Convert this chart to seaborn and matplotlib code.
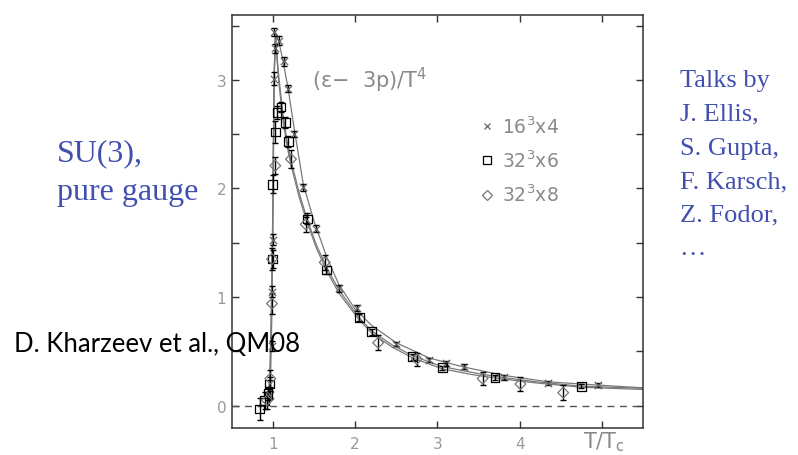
import numpy as np
import pandas as pd
import matplotlib
matplotlib.use("Agg")
import matplotlib.pyplot as plt
from matplotlib.lines import Line2D
import seaborn as sns

# ---------------- data ----------------
# N_t = 4 (16^3 x 4), cross markers
t4 = [0.97, 0.99, 0.995, 1.00, 1.01, 1.01, 1.03, 1.08, 1.13, 1.19, 1.26, 1.37,
      1.53, 1.80, 2.02, 2.50, 2.90, 3.11, 3.33, 3.81, 4.35, 4.95]
v4 = [0.10, 0.55, 1.05, 1.53, 3.01, 3.44, 3.29, 3.36, 3.17, 2.92, 2.50, 2.01,
      1.63, 1.08, 0.90, 0.57, 0.42, 0.39, 0.36, 0.26, 0.21, 0.19]
e4 = [0.04, 0.05, 0.05, 0.05, 0.06, 0.04, 0.04, 0.04, 0.04, 0.03, 0.03, 0.03,
      0.03, 0.03, 0.03, 0.02, 0.02, 0.02, 0.02, 0.02, 0.02, 0.02]

# N_t = 6 (32^3 x 6), squares
t6 = [0.84, 0.90, 0.94, 0.96, 1.00, 1.00, 1.03, 1.05, 1.10, 1.15, 1.19, 1.42,
      1.65, 2.05, 2.20, 2.70, 3.06, 3.70, 4.75]
v6 = [-0.03, 0.05, 0.11, 0.20, 1.35, 2.04, 2.52, 2.70, 2.75, 2.61, 2.43, 1.72,
      1.25, 0.81, 0.68, 0.45, 0.35, 0.26, 0.18]
e6 = [0.10, 0.08, 0.06, 0.06, 0.08, 0.08, 0.10, 0.06, 0.05, 0.05, 0.05, 0.05,
      0.04, 0.03, 0.03, 0.03, 0.02, 0.02, 0.02]

# N_t = 8 (32^3 x 8), diamonds
t8 = [0.93, 0.97, 0.99, 0.99, 1.03, 1.22, 1.40, 1.63, 2.28, 2.75, 3.55, 4.01, 4.53]
v8 = [0.05, 0.25, 0.94, 1.35, 2.21, 2.27, 1.67, 1.32, 0.58, 0.43, 0.25, 0.20, 0.12]
e8 = [0.08, 0.08, 0.10, 0.10, 0.08, 0.08, 0.07, 0.07, 0.07, 0.06, 0.06, 0.06, 0.07]

# Fit curves
c4x = [0.955, 0.975, 0.99, 1.0, 1.01, 1.02, 1.04, 1.08, 1.13, 1.19, 1.26, 1.37,
       1.5, 1.65, 1.8, 2.0, 2.2, 2.5, 2.9, 3.3, 3.8, 4.35, 4.95, 5.5]
c4y = [0.0, 0.35, 0.9, 1.6, 2.5, 3.15, 3.43, 3.33, 3.15, 2.90, 2.55, 2.04,
       1.70, 1.38, 1.12, 0.89, 0.74, 0.58, 0.44, 0.36, 0.28, 0.22, 0.19, 0.165]
c6x = [0.94, 0.965, 0.98, 0.995, 1.005, 1.015, 1.03, 1.07, 1.12, 1.17, 1.22, 1.32,
       1.42, 1.53, 1.65, 1.8, 2.05, 2.2, 2.45, 2.7, 3.06, 3.4, 3.7, 4.2, 4.75, 5.5]
c6y = [0.0, 0.3, 0.8, 1.5, 2.3, 3.0, 3.42, 3.05, 2.70, 2.45, 2.26, 1.96,
       1.71, 1.48, 1.28, 1.07, 0.81, 0.69, 0.56, 0.46, 0.36, 0.31, 0.27, 0.22, 0.18, 0.16]
c8y = [0.0, 0.28, 0.75, 1.45, 2.25, 2.95, 3.40, 3.0, 2.65, 2.40, 2.22, 1.92,
       1.68, 1.45, 1.25, 1.04, 0.79, 0.67, 0.54, 0.44, 0.34, 0.29, 0.255, 0.21, 0.17, 0.15]

x_ticks = [1, 2, 3, 4, 5]
x_ticklabels = ["1", "2", "3", "4", ""]
y_ticks = [0, 0.5, 1, 1.5, 2, 2.5, 3, 3.5]
y_ticklabels = ["0", "", "1", "", "2", "", "3", ""]
series_labels = [r"$\mathregular{16^3}$x4", r"$\mathregular{32^3}$x6", r"$\mathregular{32^3}$x8"]

left_lines = ["SU(3),", "pure gauge"]
right_lines = ["Talks by", "J. Ellis,", "S. Gupta,", "F. Karsch,", "Z. Fodor,", "\u2026"]
credit = "D. Kharzeev et al., QM08"

# ---------------- figure ----------------
sns.set_theme(style="ticks")
plt.rcParams["font.family"] = ["DejaVu Sans"]

W, H = 798, 456
fig = plt.figure(figsize=(W / 100, H / 100), dpi=100)
ax = fig.add_axes([231.7 / W, 1 - 429 / H, (643 - 231.7) / W, (429 - 15.7) / H])

grey = "#8a8a8a"
lgrey = "#9a9a9a"

ax.axhline(0, color="#555555", lw=1.0, ls=(0, (5, 4)), zorder=1)

for cx, cy in [(c4x, c4y), (c6x, c6y), (c6x, c8y)]:
    sns.lineplot(x=cx, y=cy, sort=False, estimator=None, color="#7a7a7a",
                 lw=0.9, ax=ax, zorder=2)

df4 = pd.DataFrame({"T": t4, "v": v4, "e": e4})
df6 = pd.DataFrame({"T": t6, "v": v6, "e": e6})
df8 = pd.DataFrame({"T": t8, "v": v8, "e": e8})

for df in (df4, df6, df8):
    ax.errorbar(df["T"], df["v"], yerr=df["e"], fmt="none", ecolor="black",
                elinewidth=1.0, capsize=2.5, capthick=1.0, zorder=3)

sns.scatterplot(data=df4, x="T", y="v", marker="x", s=28, color="#666666",
                linewidth=0.9, ax=ax, zorder=4)
sns.scatterplot(data=df6, x="T", y="v", marker="s", s=40, facecolor="none",
                edgecolor="black", linewidth=0.9, ax=ax, zorder=4)
sns.scatterplot(data=df8, x="T", y="v", marker="D", s=30, facecolor="none",
                edgecolor="#777777", linewidth=0.9, ax=ax, zorder=4)

ax.set_xlim(0.5, 5.5)
ax.set_ylim(-0.205, 3.6)
ax.set_xlabel("")
ax.set_ylabel("")
ax.set_xticks(x_ticks)
ax.set_xticklabels(x_ticklabels)
ax.set_yticks(y_ticks)
ax.set_yticklabels(y_ticklabels)
ax.tick_params(direction="in", length=5, width=1.0, color="#333333",
               labelcolor=lgrey, labelsize=11, top=True, right=True, pad=6)
ax.tick_params(axis="y", pad=4)
for sp in ax.spines.values():
    sp.set_color("#333333")
    sp.set_linewidth(1.1)
    sp.set_visible(True)

ax.text(1.476, 3.0, "(\u03b5\u2212  3p)/T$^4$", color=grey, fontsize=15,
        va="center", ha="left")

handles = [
    Line2D([], [], marker="x", ls="", color="#666666", markersize=5, mew=0.9),
    Line2D([], [], marker="s", ls="", mfc="none", mec="black", markersize=6, mew=0.9),
    Line2D([], [], marker="D", ls="", mfc="none", mec="#777777", markersize=5, mew=0.9),
]
leg = ax.legend(handles, series_labels, loc="upper left",
                bbox_to_anchor=(0.59, 0.775), frameon=False, fontsize=13.5,
                handlelength=0.6, handletextpad=0.5, labelspacing=0.68,
                borderaxespad=0)
for t in leg.get_texts():
    t.set_color(grey)

# T/Tc label replacing the tick "5"
fig.text(583 / W, 1 - 448 / H, r"$\mathregular{T/T_c}$", color=grey,
         fontsize=15, va="baseline", ha="left")

blue = "#4150b0"
for i, s in enumerate(left_lines):
    fig.text(57 / W, 1 - (161.7 + i * 38.3) / H, s, color=blue, fontsize=23,
             family="Liberation Serif", va="baseline", ha="left")
for i, s in enumerate(right_lines):
    fig.text(679.5 / W, 1 - (87.3 + i * 33.6) / H, s, color=blue, fontsize=19,
             family="Liberation Serif", va="baseline", ha="left")

fig.text(14 / W, 1 - 351.7 / H, credit, color="black", fontsize=18.5,
         family="Lato", va="baseline", ha="left", zorder=10)

fig.savefig("out.png", dpi=100, facecolor="white")
